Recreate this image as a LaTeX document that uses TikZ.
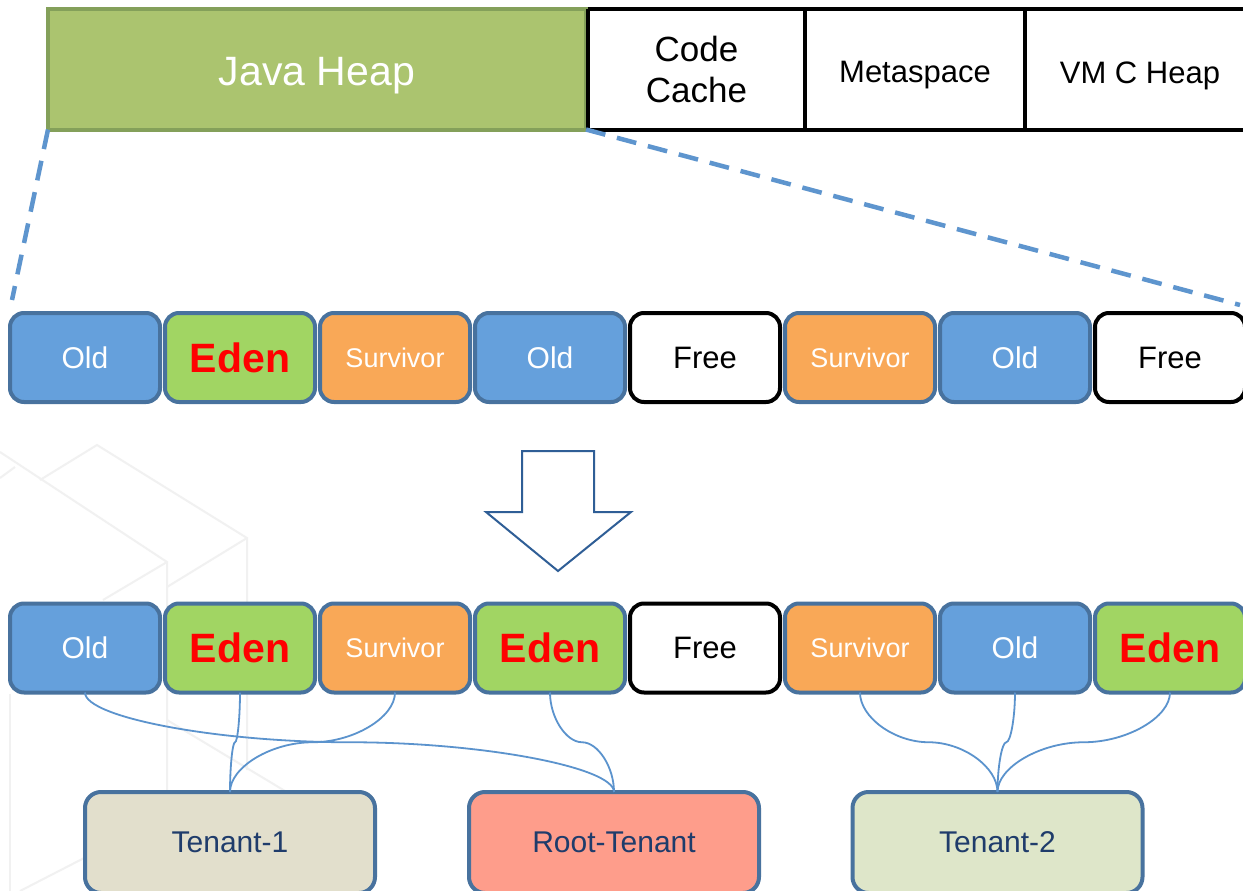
\documentclass[tikz,border=0pt]{standalone}
\usepackage{fontspec}
\setmainfont{Liberation Sans}
\usepackage{tikz}
\usetikzlibrary{calc}
\usetikzlibrary{positioning}
\definecolor{heapgreen}{HTML}{ABC46F}
\definecolor{heapedge}{HTML}{84A05A}
\definecolor{oldblue}{HTML}{65A0DC}
\definecolor{edengreen}{HTML}{A1D563}
\definecolor{survorange}{HTML}{F9A857}
\definecolor{regionedge}{HTML}{48729E}
\definecolor{linkblue}{HTML}{5B93CD}
\definecolor{zoomblue}{HTML}{5E95CE}
\definecolor{arrowblue}{HTML}{2F5E96}
\definecolor{tenantone}{HTML}{E2DFCC}
\definecolor{tenantroot}{HTML}{FE9D8B}
\definecolor{tenanttwo}{HTML}{DEE6C9}
\definecolor{tenanttext}{HTML}{1F3C6B}
\definecolor{watermark}{HTML}{F1F1F1}
\newcommand{\lowered}[1]{\raisebox{-6pt}[\height][\depth]{#1}}
\tikzset{
  area/.style={draw=black,line width=4pt,fill=white,minimum height=120pt,inner sep=0pt,outer sep=0pt,align=center},
  region/.style={draw=regionedge,line width=4pt,rounded corners=14pt,minimum width=150pt,minimum height=89pt,inner sep=0pt,outer sep=0pt,text=white},
  old/.style={region,fill=oldblue,font=\fontsize{30}{34}\selectfont},
  eden/.style={region,fill=edengreen,text=red,font=\fontsize{41}{46}\selectfont\bfseries},
  surv/.style={region,fill=survorange,font=\fontsize{27}{31}\selectfont},
  free/.style={region,draw=black,fill=white,text=black,font=\fontsize{31}{35}\selectfont},
  tenant/.style={draw=regionedge,line width=4pt,rounded corners=16pt,minimum width=290pt,minimum height=101pt,inner sep=0pt,outer sep=0pt,text=tenanttext,font=\fontsize{30}{34}\selectfont},
  zoomline/.style={draw=zoomblue,line width=4.5pt,dash pattern=on 20pt off 12pt},
  link/.style={draw=linkblue,line width=1.8pt},
  elbow/.style={to path={let \p1=(\tikztostart), \p2=(\tikztotarget) in
    .. controls (\x1,{0.75*\y1+0.25*\y2}) and ({0.75*\x1+0.25*\x2},{0.5*\y1+0.5*\y2})
    .. ({0.5*\x1+0.5*\x2},{0.5*\y1+0.5*\y2})
    .. controls ({0.25*\x1+0.75*\x2},{0.5*\y1+0.5*\y2}) and (\x2,{0.25*\y1+0.75*\y2})
    .. (\x2,\y2)}}
}
\begin{document}
\begin{tikzpicture}[x=1pt,y=-1pt]
  \clip (0,0) rectangle (1243,891);
  \fill[white] (0,0) rectangle (1243,891);

  % faint cubes in the background
  \draw[watermark,line width=2pt] (0,452) -- (167,562) -- (167,891);
  \draw[watermark,line width=2pt] (40,480) -- (97,445) -- (247,538) -- (247,770);
  \draw[watermark,line width=2pt] (103,600) -- (167,562);
  \draw[watermark,line width=2pt] (167,587) -- (247,538);
  \draw[watermark,line width=2pt] (0,478) -- (15,467);
  \draw[watermark,line width=2pt] (10,694) -- (10,891);
  \draw[watermark,line width=2pt] (167,720) -- (300,800);
  \draw[watermark,line width=2pt] (20,891) -- (90,855);

  % top: memory areas
  \node[area,minimum width=217pt,font=\fontsize{35}{41}\selectfont] (code) at (696.5,69.5) {Code\\Cache};
  \node[area,minimum width=220pt,font=\fontsize{31}{35}\selectfont] (meta) at (915,69.5) {\lowered{Metaspace}};
  \node[area,minimum width=230pt,font=\fontsize{31}{35}\selectfont] (vmc) at (1140,69.5) {\lowered{VM C Heap}};
  \node[draw=heapedge,fill=heapgreen,line width=4pt,minimum width=538pt,minimum height=120pt,inner sep=0pt,outer sep=0pt,text=white,font=\fontsize{41}{46}\selectfont] (heap) at (317,69.5) {\lowered{Java Heap}};
  \draw[black,line width=4pt] (code.north west) -- (code.south west);

  % heap regions before
  \node[old]  (a1) at (85,357.5)   {Old};
  \node[eden] (a2) at (240,357.5)  {Eden};
  \node[surv] (a3) at (395,357.5)  {Survivor};
  \node[old]  (a4) at (550,357.5)  {Old};
  \node[free] (a5) at (705,357.5)  {Free};
  \node[surv] (a6) at (860,357.5)  {Survivor};
  \node[old]  (a7) at (1015,357.5) {Old};
  \node[free] (a8) at (1170,357.5) {Free};

  \coordinate (lz) at (12,300);
  \coordinate (rz) at (1240,305);
  \draw[zoomline] (heap.south west) -- (lz);
  \draw[zoomline] (heap.south east) -- (rz);

  % block arrow
  \draw[arrowblue,line width=2pt,line join=miter] (522,451) -- (594,451) -- (594,512) -- (631,512)
    -- (558,571) -- (486,512) -- (522,512) -- cycle;

  % heap regions after
  \node[old]  (b1) at (85,648)   {Old};
  \node[eden] (b2) at (240,648)  {Eden};
  \node[surv] (b3) at (395,648)  {Survivor};
  \node[eden] (b4) at (550,648)  {Eden};
  \node[free] (b5) at (705,648)  {Free};
  \node[surv] (b6) at (860,648)  {Survivor};
  \node[old]  (b7) at (1015,648) {Old};
  \node[eden] (b8) at (1170,648) {Eden};

  % tenants
  \node[tenant,fill=tenantone]  (t1) at (230,842.5) {Tenant-1};
  \node[tenant,fill=tenantroot] (t0) at (614,842.5) {Root-Tenant};
  \node[tenant,fill=tenanttwo]  (t2) at (997.5,842.5) {Tenant-2};

  \draw[link] (b1.south) to[elbow] (t0.north);
  \draw[link] (b2.south) to[elbow] (t1.north);
  \draw[link] (b3.south) to[elbow] (t1.north);
  \draw[link] (b4.south) to[elbow] (t0.north);
  \draw[link] (b6.south) to[elbow] (t2.north);
  \draw[link] (b7.south) to[elbow] (t2.north);
  \draw[link] (b8.south) to[elbow] (t2.north);
\end{tikzpicture}
\end{document}
